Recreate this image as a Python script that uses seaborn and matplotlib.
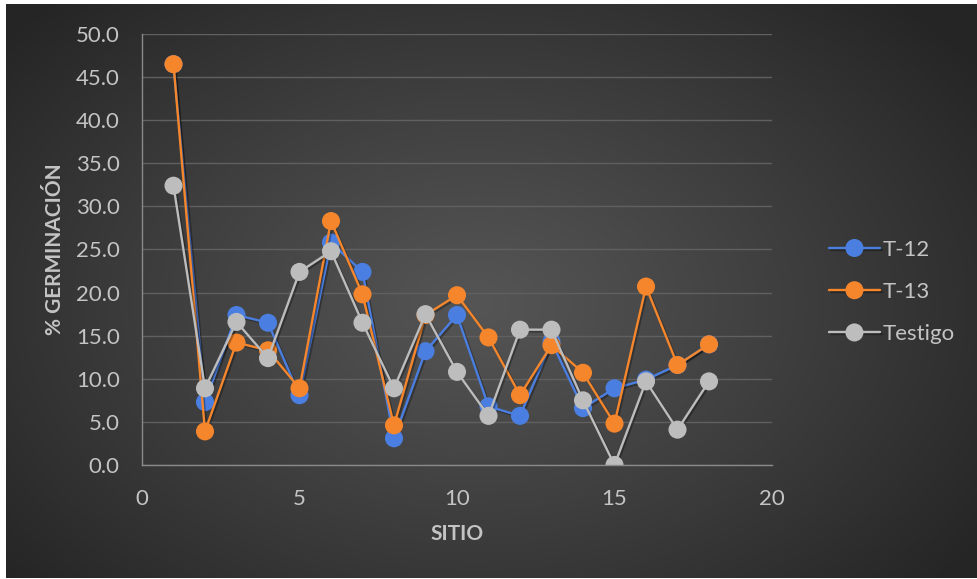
import numpy as np
import pandas as pd
import matplotlib
matplotlib.use("Agg")
import matplotlib.pyplot as plt
import matplotlib.patheffects as pe
import seaborn as sns

# Germination per site for each treatment
sitio = list(range(1, 19))
t12 = [46.5, 7.3, 17.4, 16.5, 8.1, 25.8, 22.4, 3.1, 13.2, 17.4, 6.8, 5.7, 14.3, 6.6, 8.9, 9.9, 11.6, 14.0]
t13 = [46.5, 3.9, 14.2, 13.3, 8.9, 28.3, 19.8, 4.6, 17.4, 19.7, 14.8, 8.1, 13.9, 10.7, 4.8, 20.7, 11.6, 14.0]
testigo = [32.4, 8.9, 16.6, 12.4, 22.4, 24.8, 16.5, 8.9, 17.5, 10.8, 5.7, 15.7, 15.7, 7.5, 0.0, 9.7, 4.1, 9.7]
series = ["T-12", "T-13", "Testigo"]
colors = ["#4a7ee0", "#f5862c", "#bdbdbd"]
x_ticks = [0, 5, 10, 15, 20]
y_ticks = [0, 5, 10, 15, 20, 25, 30, 35, 40, 45, 50]

df = pd.DataFrame({
    "sitio": sitio * 3,
    "pct": t12 + t13 + testigo,
    "serie": ["T-12"] * 18 + ["T-13"] * 18 + ["Testigo"] * 18,
})

sns.set_theme(style="dark")
plt.rcParams["font.family"] = ["Lato", "DejaVu Sans"]
txt = "#c4c4c4"

W, H = 977, 579
fig = plt.figure(figsize=(W / 100, H / 100), dpi=100, facecolor="white")

# radial dark gradient behind the chart
bg = fig.add_axes([6 / W, 1 / H, 971 / W, 574 / H])
bg.set_axis_off()
yy, xx = np.mgrid[0:574, 0:971]
r = np.sqrt(((xx - 470) / 620.0) ** 2 + ((yy - 300) / 420.0) ** 2)
r = np.clip(r, 0, 1)
c0, c1 = 0x55, 0x25
g = (c0 + (c1 - c0) * r ** 1.1) / 255.0
bg.imshow(np.dstack([g, g, g]), aspect="auto", interpolation="bilinear")

ax = fig.add_axes([142 / W, 1 - 465 / H, 630 / W, 431 / H])
ax.set_facecolor((0, 0, 0, 0))

for name, col in zip(series, colors):
    sub = df[df["serie"] == name]
    sns.lineplot(data=sub, x="sitio", y="pct", ax=ax, color=col, marker="o",
                 markersize=13, markeredgewidth=0, linewidth=1.7, label=name,
                 path_effects=[pe.SimpleLineShadow(offset=(1.2, -1.2), alpha=0.3, shadow_color="black"),
                               pe.Normal()])

ax.set_xlim(0, 20)
ax.set_ylim(0, 50)
ax.set_xticks(x_ticks)
ax.set_yticks(y_ticks)
ax.set_yticklabels([f"{v:.1f}" for v in y_ticks])
ax.tick_params(axis="both", length=0, labelsize=16, colors=txt)
ax.tick_params(axis="x", pad=17)
ax.tick_params(axis="y", pad=16)
ax.grid(axis="y", color="#606060", linewidth=1)
ax.grid(axis="x", visible=False)
for s in ["top", "right"]:
    ax.spines[s].set_visible(False)
for s in ["left", "bottom"]:
    ax.spines[s].set_visible(True)
    ax.spines[s].set_color("#8a8a8a")
    ax.spines[s].set_linewidth(1)

ax.set_xlabel("SITIO", fontsize=15, fontweight="bold", color=txt)
ax.set_ylabel("% GERMINACIÓN", fontsize=15, fontweight="bold", color=txt)
ax.xaxis.label.set_va("center")
ax.yaxis.label.set_va("center")
ax.xaxis.set_label_coords(0.5, -0.160)
ax.yaxis.set_label_coords(-0.138, 0.5)

handles, labels = ax.get_legend_handles_labels()
ax.legend_.remove()
leg = fig.legend(handles, labels, loc="center left", bbox_to_anchor=(820 / W, 1 - 292 / H),
                 frameon=False, fontsize=16, handlelength=2.3, handletextpad=0.1,
                 labelspacing=1.0, borderaxespad=0)
for t in leg.get_texts():
    t.set_color(txt)

fig.savefig("out.png", dpi=100, facecolor=fig.get_facecolor())
